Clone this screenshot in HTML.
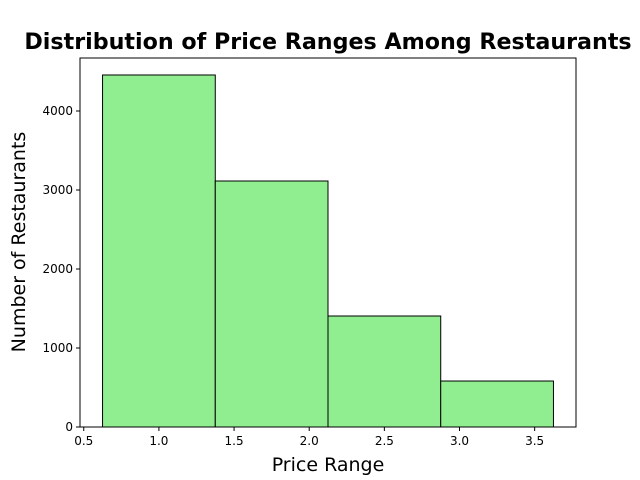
<!DOCTYPE html>
<html><head><meta charset="utf-8"><style>
body{margin:0;background:#fff;}
svg{display:block;font-family:"DejaVu Sans","Liberation Sans",sans-serif;}
</style></head><body>
<svg id="chart" width="640" height="480">
<text x="328" y="49" text-anchor="middle" font-size="22.2" font-weight="bold">Distribution of Price Ranges Among Restaurants</text>
<text x="328" y="471" text-anchor="middle" font-size="19">Price Range</text>
<text transform="translate(25,242) rotate(-90)" text-anchor="middle" font-size="19">Number of Restaurants</text>
<g id="bars"></g><g id="xt"></g><g id="yt"></g>
<rect x="80" y="58" width="496" height="369" fill="none" stroke="#000" stroke-width="1"/>
</svg>
<script>
const binEdges=[0.625,1.375,2.125,2.875,3.625];
const counts=[4456,3114,1405,582];
const xTicks=[0.5,1.0,1.5,2.0,2.5,3.0,3.5];
const xTickLabels=["0.5","1.0","1.5","2.0","2.5","3.0","3.5"];
const yTicks=[0,1000,2000,3000,4000];
const L=80,R=576,T=58,B=427,xmin=0.475,xmax=3.775,ymax=4671;
const sx=v=>L+(v-xmin)/(xmax-xmin)*(R-L);
const sy=v=>B-v/ymax*(B-T);
const NS="http://www.w3.org/2000/svg";
const g=document.getElementById('bars');
counts.forEach((c,i)=>{const r=document.createElementNS(NS,'rect');
const x0=sx(binEdges[i]),x1=sx(binEdges[i+1]);
r.setAttribute('x',x0);r.setAttribute('y',sy(c));r.setAttribute('width',x1-x0);r.setAttribute('height',B-sy(c));
r.setAttribute('fill','#90ee90');r.setAttribute('stroke','#000');r.setAttribute('stroke-width','1');


g.appendChild(r);});
const xt=document.getElementById('xt');
xTicks.forEach((v,i)=>{const x=sx(v);
const l=document.createElementNS(NS,'line');l.setAttribute('x1',x);l.setAttribute('x2',x);l.setAttribute('y1',B);l.setAttribute('y2',B+4);l.setAttribute('stroke','#000');


xt.appendChild(l);
const t=document.createElementNS(NS,'text');t.setAttribute('x',x);t.setAttribute('y',B+18);t.setAttribute('text-anchor','middle');t.setAttribute('font-size','12');t.textContent=xTickLabels[i];


xt.appendChild(t);});
const yt=document.getElementById('yt');
yTicks.forEach(v=>{const y=sy(v);
const l=document.createElementNS(NS,'line');l.setAttribute('x1',L-4);l.setAttribute('x2',L);l.setAttribute('y1',y);l.setAttribute('y2',y);l.setAttribute('stroke','#000');


yt.appendChild(l);
const t=document.createElementNS(NS,'text');t.setAttribute('x',L-7);t.setAttribute('y',y+4);t.setAttribute('text-anchor','end');t.setAttribute('font-size','12');t.textContent=v;


yt.appendChild(t);});
</script>
</body></html>
